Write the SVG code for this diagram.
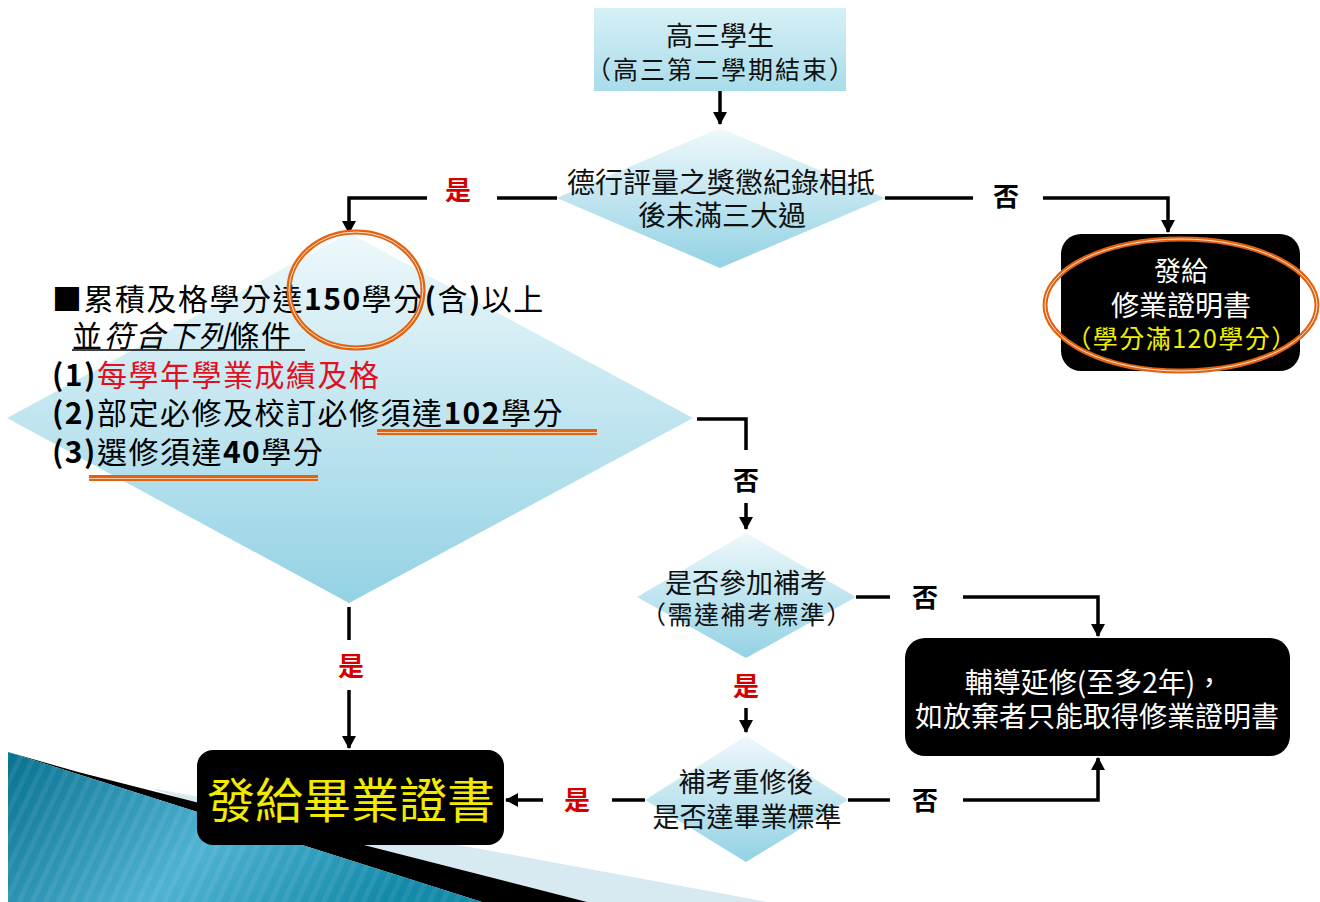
<svg xmlns="http://www.w3.org/2000/svg" width="1320" height="902" viewBox="0 0 1320 902">
<defs>
<linearGradient id="gDia" x1="0" y1="0" x2="0" y2="1">
<stop offset="0" stop-color="#eef8fb"/>
<stop offset="1" stop-color="#93d2e4"/>
</linearGradient>
<linearGradient id="gBox" x1="0" y1="0" x2="0" y2="1">
<stop offset="0" stop-color="#d6f0f6"/>
<stop offset="1" stop-color="#a9dcea"/>
</linearGradient>
<linearGradient id="gTeal" x1="0" y1="0" x2="1" y2="0.3">
<stop offset="0" stop-color="#07718f"/>
<stop offset="0.55" stop-color="#4fb2d2"/>
<stop offset="1" stop-color="#138aa8"/>
</linearGradient>
<pattern id="stripes" width="12" height="12" patternUnits="userSpaceOnUse" patternTransform="rotate(25)">
<rect width="5" height="12" fill="#ffffff" opacity="0.07"/>
</pattern>
<marker id="arr" markerWidth="14" markerHeight="14" refX="12" refY="7" orient="auto" markerUnits="userSpaceOnUse">
<path d="M0,0 L13,7 L0,14 Z" fill="#000"/>
</marker>
<style>
.t{font-family:"Noto Sans CJK TC","Noto Sans CJK SC",sans-serif;}
.c{text-anchor:middle;}
.conn{stroke:#000;stroke-width:3.5;fill:none;}
.yes{font-family:"Noto Sans CJK TC",sans-serif;font-weight:bold;font-size:26px;fill:#d40000;text-anchor:middle;}
.no{font-family:"Noto Sans CJK TC",sans-serif;font-weight:bold;font-size:26px;fill:#000;text-anchor:middle;}
.orange{fill:none;stroke:#e2620f;stroke-width:5;}
.orangeIn{fill:none;stroke:#fbe3d2;stroke-width:1;}
.blk{font-size:30px;letter-spacing:1.5px;}
</style>
</defs>
<rect width="1320" height="902" fill="#ffffff"/>

<g id="decoration">
<polygon points="150,788 768,902 480,902" fill="#d8eaf1"/>
<polygon points="78,772 587,902 482,902 8,752" fill="#000"/>
<polygon points="8,752 482,902 8,902" fill="url(#gTeal)"/>
<polygon points="8,752 482,902 8,902" fill="url(#stripes)"/>
</g>

<g id="connectors">
<line class="conn" x1="720" y1="91" x2="720" y2="124" marker-end="url(#arr)"/>
<line class="conn" x1="557" y1="198" x2="497" y2="198"/>
<polyline class="conn" points="427,198 349,198 349,233" marker-end="url(#arr)"/>
<line class="conn" x1="885" y1="198" x2="973" y2="198"/>
<polyline class="conn" points="1043,198 1168,198 1168,232" marker-end="url(#arr)"/>
<polyline class="conn" points="697,419 746,419 746,450"/>
<line class="conn" x1="746" y1="503" x2="746" y2="529" marker-end="url(#arr)"/>
<line class="conn" x1="856" y1="597" x2="890" y2="597"/>
<polyline class="conn" points="963,597 1098,597 1098,636" marker-end="url(#arr)"/>
<line class="conn" x1="746" y1="708" x2="746" y2="732" marker-end="url(#arr)"/>
<line class="conn" x1="645" y1="800" x2="612" y2="800"/>
<line class="conn" x1="543" y1="800" x2="506" y2="800" marker-end="url(#arr)"/>
<line class="conn" x1="848" y1="800" x2="890" y2="800"/>
<polyline class="conn" points="963,800 1098,800 1098,758" marker-end="url(#arr)"/>
<line class="conn" x1="349" y1="607" x2="349" y2="640"/>
<line class="conn" x1="349" y1="690" x2="349" y2="748" marker-end="url(#arr)"/>
<text class="yes" x="458" y="200">是</text>
<text class="no" x="1006" y="206">否</text>
<text class="no" x="746" y="490">否</text>
<text class="yes" x="351" y="676">是</text>
<text class="no" x="925" y="607">否</text>
<text class="yes" x="746" y="696">是</text>
<text class="yes" x="577" y="810">是</text>
<text class="no" x="925" y="810">否</text>
</g>

<g id="start">
<rect x="594" y="8" width="252" height="83" fill="url(#gBox)"/>
<text class="t c" x="720" y="46" font-size="27" fill="#111">高三學生</text>
<text class="t c" x="721" y="79" font-size="25" letter-spacing="2" fill="#111">（高三第二學期結束）</text>
</g>

<g id="conduct">
<polygon points="720,128 885,198 720,268 557,198" fill="url(#gDia)"/>
<text class="t c" x="721" y="193" font-size="28" fill="#111">德行評量之獎懲紀錄相抵</text>
<text class="t c" x="722" y="226" font-size="28" fill="#111">後未滿三大過</text>
</g>

<g id="certificate-study">
<rect x="1061" y="234" width="239" height="137" rx="20" fill="#000"/>
<text class="t c" x="1181" y="281" font-size="27" fill="#fff">發給</text>
<text class="t c" x="1181" y="316" font-size="28" fill="#fff">修業證明書</text>
<text class="t c" x="1182" y="348" font-size="25" letter-spacing="1.5" fill="#f2f000">（學分滿120學分）</text>
<ellipse class="orange" cx="1181" cy="305" rx="136" ry="66"/>
<ellipse class="orangeIn" cx="1181" cy="305" rx="136" ry="66"/>
</g>

<g id="credits">
<polygon points="349,233 693,418 349,603 7,418" fill="url(#gDia)"/>
<text class="t blk" x="52" y="310" fill="#000">■累積及格學分達<tspan font-weight="bold">150</tspan>學分<tspan font-weight="bold">(</tspan>含<tspan font-weight="bold">)</tspan>以上</text>
<text class="t blk" x="72" y="347" fill="#000">並<tspan font-style="italic">符合下列</tspan>條件</text>
<line x1="72" y1="350" x2="305" y2="350" stroke="#000" stroke-width="1.5"/>
<text class="t blk" x="52" y="386" fill="#e0101f"><tspan font-weight="bold" fill="#000">(1)</tspan>每學年學業成績及格</text>
<text class="t blk" x="52" y="424" fill="#000"><tspan font-weight="bold">(2)</tspan>部定必修及校訂必修須達<tspan font-weight="bold">102</tspan>學分</text>
<text class="t blk" x="52" y="463" fill="#000"><tspan font-weight="bold">(3)</tspan>選修須達<tspan font-weight="bold">40</tspan>學分</text>
<rect x="377" y="429" width="220" height="6" fill="#e2620f"/>
<line x1="377" y1="432.5" x2="597" y2="432.5" stroke="#f6c9a9" stroke-width="1"/>
<rect x="89" y="475" width="229" height="6" fill="#e2620f"/>
<line x1="89" y1="478.5" x2="318" y2="478.5" stroke="#f6c9a9" stroke-width="1"/>
<ellipse class="orange" cx="356" cy="290" rx="67" ry="58"/>
<ellipse class="orangeIn" cx="356" cy="290" rx="67" ry="58"/>
</g>

<g id="makeup-exam">
<polygon points="746,533 856,597 746,658 637,597" fill="url(#gDia)"/>
<text class="t c" x="746" y="593" font-size="27" fill="#111">是否參加補考</text>
<text class="t c" x="747" y="624" font-size="25" letter-spacing="1.5" fill="#111">（需達補考標準）</text>
</g>

<g id="extension">
<rect x="905" y="638" width="385" height="118" rx="20" fill="#000"/>
<text class="t c" x="1094" y="693" font-size="28" fill="#fff">輔導延修(至多2年)，</text>
<text class="t c" x="1097" y="727" font-size="28" fill="#fff">如放棄者只能取得修業證明書</text>
</g>

<g id="retake">
<polygon points="746,736 848,800 746,862 645,800" fill="url(#gDia)"/>
<text class="t c" x="746" y="792" font-size="27" fill="#111">補考重修後</text>
<text class="t c" x="747" y="827" font-size="27" fill="#111">是否達畢業標準</text>
</g>

<g id="diploma">
<rect x="197" y="750" width="307" height="95" rx="16" fill="#000"/>
<text class="t c" x="351" y="818" font-size="48" fill="#f2ea00">發給畢業證書</text>
</g>
</svg>
